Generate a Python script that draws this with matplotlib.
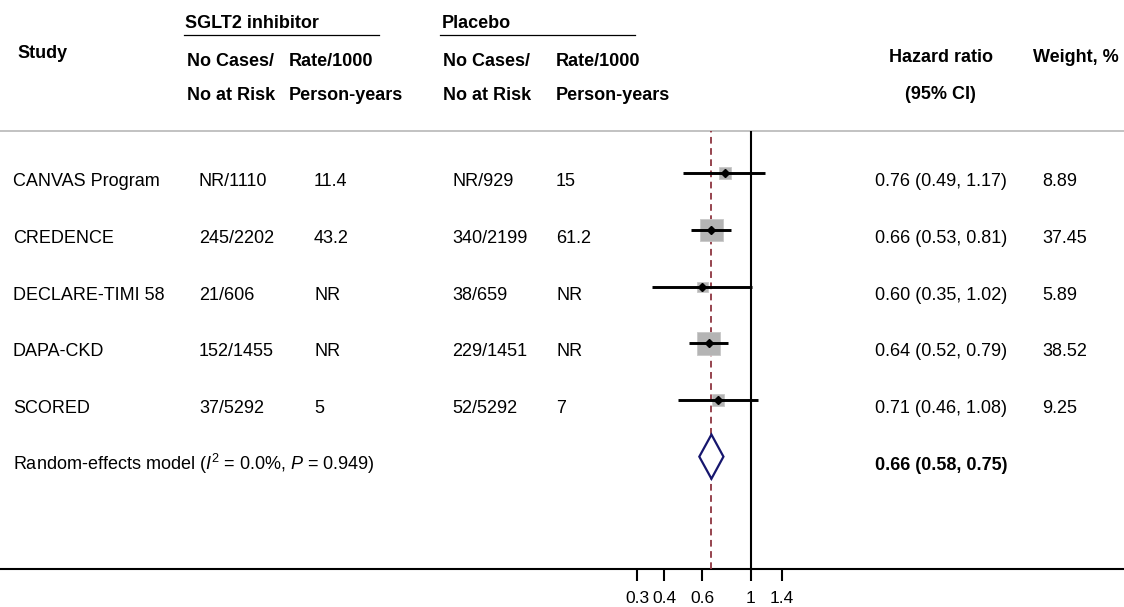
import numpy as np
import matplotlib
matplotlib.use("Agg")
import matplotlib.pyplot as plt
from matplotlib.lines import Line2D

plt.rcParams['font.family'] = ['Liberation Sans', 'DejaVu Sans']
plt.rcParams['mathtext.fontset'] = 'custom'
plt.rcParams['mathtext.rm'] = 'Liberation Sans'
plt.rcParams['mathtext.it'] = 'Liberation Sans:italic'
plt.rcParams['mathtext.bf'] = 'Liberation Sans:bold'

# ---------------- data ----------------
studies = ["CANVAS Program", "CREDENCE", "DECLARE-TIMI 58", "DAPA-CKD", "SCORED"]
sglt_cases = ["NR/1110", "245/2202", "21/606", "152/1455", "37/5292"]
sglt_rate = ["11.4", "43.2", "NR", "NR", "5"]
pbo_cases = ["NR/929", "340/2199", "38/659", "229/1451", "52/5292"]
pbo_rate = ["15", "61.2", "NR", "NR", "7"]
hr = [0.76, 0.66, 0.60, 0.64, 0.71]
ci_lo = [0.49, 0.53, 0.35, 0.52, 0.46]
ci_hi = [1.17, 0.81, 1.02, 0.79, 1.08]
weights = [8.89, 37.45, 5.89, 38.52, 9.25]
pooled_hr, pooled_lo, pooled_hi = 0.66, 0.58, 0.75
summary_label = r"Random-effects model ($\mathit{I}^2$ = 0.0%, $\mathit{P}$ = 0.949)"
x_ticks = [0.3, 0.4, 0.6, 1, 1.4]
x_ticklabels = ["0.3", "0.4", "0.6", "1", "1.4"]

# ---------------- figure ----------------
W, H = 1124, 607
DPI = 100
fig = plt.figure(figsize=(W / DPI, H / DPI), dpi=DPI)

# overlay axes in pixel coordinates for table text / rules
tx = fig.add_axes([0, 0, 1, 1])
tx.set_xlim(0, W)
tx.set_ylim(H, 0)
tx.axis('off')

FS = 13
row0_text = 180.0   # visual centre of first row text
row_step = 56.65
base_off = 6.5      # visual centre -> baseline


def put(x, yc, s, bold=False, ha='left', size=FS):
    tx.text(x, yc + base_off, s, ha=ha, va='baseline', fontsize=size,
            fontweight='bold' if bold else 'normal', color='black')


# header
put(17, 52, "Study", bold=True)
put(185, 21.5, "SGLT2 inhibitor", bold=True)
put(442, 21.5, "Placebo", bold=True)
put(187, 60, "No Cases/", bold=True)
put(187, 93, "No at Risk", bold=True)
put(289, 60, "Rate/1000", bold=True)
put(289, 93, "Person-years", bold=True)
put(443, 60, "No Cases/", bold=True)
put(443, 93, "No at Risk", bold=True)
put(556, 60, "Rate/1000", bold=True)
put(556, 93, "Person-years", bold=True)
put(941, 56, "Hazard ratio", bold=True, ha='center')
put(940, 92.5, "(95% CI)", bold=True, ha='center')
put(1033, 56, "Weight, %", bold=True)

tx.add_line(Line2D([184, 379], [34.5, 34.5], color='black', lw=0.9))
tx.add_line(Line2D([440, 635], [35, 35], color='black', lw=0.9))
tx.add_line(Line2D([0, W], [130.7, 130.7], color='#c2c2c2', lw=1.4))
tx.add_line(Line2D([0, W], [569, 569], color='black', lw=1.5))

# rows
for i, name in enumerate(studies):
    yc = row0_text + row_step * i
    put(13, yc, name)
    put(199, yc, sglt_cases[i])
    put(314, yc, sglt_rate[i])
    put(452, yc, pbo_cases[i])
    put(556, yc, pbo_rate[i])
    put(875, yc, f"{hr[i]:.2f} ({ci_lo[i]:.2f}, {ci_hi[i]:.2f})")
    put(1042, yc, f"{weights[i]:.2f}")

ys = row0_text + row_step * len(studies)
put(13, ys, summary_label)
put(875, ys, f"{pooled_hr:.2f} ({pooled_lo:.2f}, {pooled_hi:.2f})", bold=True)

# ---------------- forest axes ----------------
px_left, px_right = 600, 850
px_top, px_bottom = 130.7, 569
px_one = 750.5
px_per_ln = 94.0
ax = fig.add_axes([px_left / W, (H - px_bottom) / H,
                   (px_right - px_left) / W, (px_bottom - px_top) / H])
ax.patch.set_visible(False)
ax.set_xscale('log')
ax.set_xlim(np.exp((px_left - px_one) / px_per_ln),
            np.exp((px_right - px_one) / px_per_ln))
mark0 = 173.3
mstep = 56.67
ax.set_ylim((px_bottom - mark0) / mstep, (px_top - mark0) / mstep)

rows = np.arange(len(studies))
ax.axvline(1, color='black', lw=1.5, zorder=1)
ax.axvline(pooled_hr, color='#8e3540', lw=1.3,
           linestyle=(0, (3.7, 2.5)), zorder=1)

w = np.array(weights)
side_pt = (2.0 + 3.35 * np.sqrt(w)) * 72 / DPI
ax.scatter(hr, rows, s=side_pt ** 2, marker='s', color='#b4b4b4',
           edgecolors='#c8c8c8', linewidths=0.6, zorder=2)
ax.hlines(rows, ci_lo, ci_hi, color='black', lw=2.1, zorder=3)
ax.plot(hr, rows, 'D', color='black', ms=3.8, zorder=4)

ys_row = len(studies)
dh = 0.39
ax.fill([pooled_lo, pooled_hr, pooled_hi, pooled_hr],
        [ys_row, ys_row - dh, ys_row, ys_row + dh],
        facecolor='white', edgecolor='#16166e', lw=1.6, zorder=3)

ax.set_xticks(x_ticks)
ax.set_xticklabels(x_ticklabels)
ax.xaxis.set_minor_locator(matplotlib.ticker.NullLocator())
ax.tick_params(axis='x', which='major', direction='out', length=8.6,
               width=1.5, labelsize=12.5, pad=7.5, colors='black')
ax.set_yticks([])
for s in ax.spines.values():
    s.set_visible(False)

fig.savefig("out.png", dpi=DPI)
